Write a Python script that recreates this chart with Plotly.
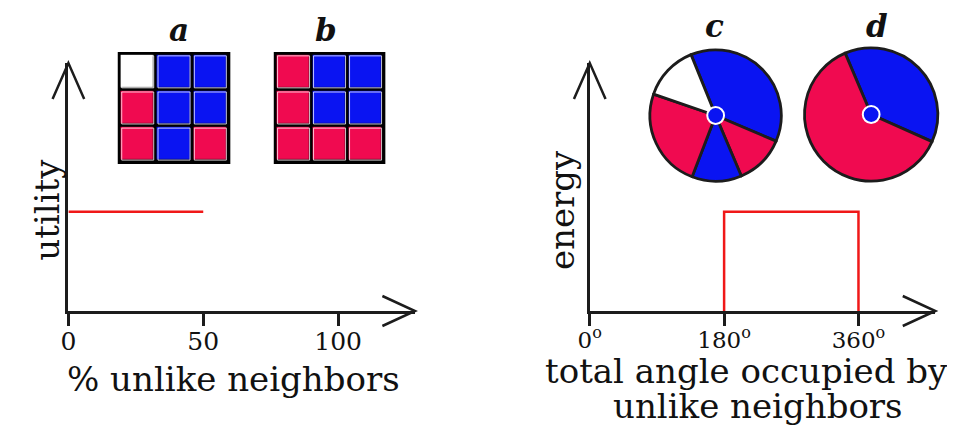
import plotly.graph_objects as go

W, H = 955, 436
PAGE_MARGIN = 8  # default body margin of the html page

RED = "#F00A50"
BLUE = "#0A14F2"
INK = "#1c1c1c"
SERIF = "DejaVu Serif"

# left panel: utility vs % unlike neighbours
pct_ticks = [0, 50, 100]
utility_x = [0, 50]
utility_y = [0.4, 0.4]

# right panel: energy vs total angle of unlike neighbours
angle_ticks = [0, 180, 360]
angle_labels = ["0<sup>o</sup>", "180<sup>o</sup>", "360<sup>o</sup>"]
energy_x = [180, 180, 360, 360]
energy_y = [0, 0.4, 0.4, 0]

# neighbourhood grids, 0 = empty, 1 = red, 2 = blue (rows top to bottom)
grid_a = [[0, 2, 2], [1, 2, 2], [1, 2, 1]]
grid_b = [[1, 2, 2], [1, 2, 2], [1, 1, 1]]

# angular neighbourhoods, degrees clockwise from the first boundary
pie_c_angles = [135, 44, 44, 88, 49]
pie_c_colors = [BLUE, RED, BLUE, RED, "white"]
pie_c_start = 338
pie_d_angles = [137, 223]
pie_d_colors = [BLUE, RED]
pie_d_start = 337


def px(x):
    return (x - PAGE_MARGIN) / W


def py(y):
    return 1 - (y - PAGE_MARGIN) / H


fig = go.Figure()

fig.add_trace(go.Scatter(x=utility_x, y=utility_y, mode="lines",
                         line=dict(color="#f01818", width=2.5),
                         xaxis="x", yaxis="y", hoverinfo="skip"))
fig.add_trace(go.Scatter(x=energy_x, y=energy_y, mode="lines",
                         line=dict(color="#f01818", width=2.5),
                         xaxis="x2", yaxis="y2", hoverinfo="skip"))

cscale = [[0, "white"], [0.33, "white"], [0.33, RED], [0.67, RED],
          [0.67, BLUE], [1, BLUE]]
for grid, xa, ya in [(grid_a, "x3", "y3"), (grid_b, "x4", "y4")]:
    fig.add_trace(go.Heatmap(z=grid, x=[0, 1, 2], y=[0, 1, 2], zmin=0, zmax=2,
                             colorscale=cscale, showscale=False, xgap=3.5, ygap=3.5,
                             xaxis=xa, yaxis=ya, hoverinfo="skip"))
    cx = [c for r in range(3) for c in range(3)]
    cy = [r for r in range(3) for c in range(3)]
    fig.add_trace(go.Scatter(x=cx, y=cy, mode="markers", xaxis=xa, yaxis=ya,
                             marker=dict(symbol="square-open", size=32,
                                         color="rgba(255,255,255,0.75)",
                                         line=dict(width=1)),
                             hoverinfo="skip"))

pies = [
    (pie_c_angles, pie_c_colors, pie_c_start, 712.5, 115.5, 66.5),
    (pie_d_angles, pie_d_colors, pie_d_start, 870, 114.5, 67.5),
]
for vals, cols, start, cx, cy, r in pies:
    fig.add_trace(go.Pie(values=vals, sort=False, direction="clockwise",
                         rotation=start, textinfo="none", hoverinfo="skip",
                         marker=dict(colors=cols, line=dict(color=INK, width=2.8)),
                         domain=dict(x=[px(cx - r), px(cx + r)],
                                     y=[py(cy + r), py(cy - r)])))
    d = 8.5
    fig.add_trace(go.Pie(values=[1], sort=False, textinfo="none", hoverinfo="skip",
                         marker=dict(colors=[BLUE], line=dict(color="white", width=2)),
                         domain=dict(x=[px(cx - d), px(cx + d)],
                                     y=[py(cy + d), py(cy - d)])))

axis_common = dict(showgrid=False, zeroline=False, showline=True,
                   linecolor=INK, linewidth=3, fixedrange=True)
tick_common = dict(ticks="outside", ticklen=12, tickwidth=2.5, tickcolor=INK,
                   ticklabelstandoff=-6)
hidden = dict(visible=False, fixedrange=True)

fig.update_layout(
    width=W, height=H,
    margin=dict(l=0, r=0, t=0, b=0),
    paper_bgcolor="white", plot_bgcolor="rgba(0,0,0,0)",
    showlegend=False,
    xaxis=dict(domain=[px(57), px(408)], range=[0, 128.5], anchor="y",
               tickvals=pct_ticks,
               tickfont=dict(family=SERIF, size=25, color="#111"),
               **axis_common, **tick_common),
    yaxis=dict(domain=[py(311), py(63)], range=[0, 1], anchor="x",
               showticklabels=False, **axis_common),
    xaxis2=dict(domain=[px(585), px(935)], range=[0, 463], anchor="y2",
                tickvals=angle_ticks, ticktext=angle_labels,
                tickfont=dict(family=SERIF, size=23, color="#111"),
                **axis_common, **tick_common),
    yaxis2=dict(domain=[py(311), py(63)], range=[0, 1], anchor="x2",
                showticklabels=False, **axis_common),
    xaxis3=dict(domain=[px(107), px(221)], range=[-0.55, 2.55], anchor="y3", **hidden),
    yaxis3=dict(domain=[py(164), py(52)], range=[2.55, -0.55], anchor="x3", **hidden),
    xaxis4=dict(domain=[px(265), px(378)], range=[-0.55, 2.55], anchor="y4", **hidden),
    yaxis4=dict(domain=[py(164), py(52)], range=[2.55, -0.55], anchor="x4", **hidden),
)

# black frame behind each grid shows through the cell gaps
for n in ("3", "4"):
    fig.add_shape(type="rect", xref=f"x{n} domain", yref=f"y{n} domain",
                  x0=0, x1=1, y0=0, y1=1, fillcolor="black",
                  line=dict(width=0), layer="below")

# open arrowheads at the ends of the axes
for xa, ya in (("x", "y"), ("x2", "y2")):
    xd = fig.layout[xa.replace("x", "xaxis")].domain
    yd = fig.layout[ya.replace("y", "yaxis")].domain
    wpx = (xd[1] - xd[0]) * W
    hpx = (yd[1] - yd[0]) * H
    ax, ay = 33 / wpx, 15 / hpx
    fig.add_shape(type="path", xref=f"{xa} domain", yref=f"{ya} domain",
                  path=f"M {1 - ax},{ay} L 1,0 L {1 - ax},{-ay}",
                  line=dict(color=INK, width=2.5))
    bx, by = 16 / wpx, 36 / hpx
    fig.add_shape(type="path", xref=f"{xa} domain", yref=f"{ya} domain",
                  path=f"M {-bx},{1 - by} L 0,1 L {bx},{1 - by}",
                  line=dict(color=INK, width=2.5))

texts = [
    ("a", 169, 30, 31, True, 0),
    ("b", 318, 30, 31, True, 0),
    ("c", 711, 26, 31, True, 0),
    ("d", 876, 26, 31, True, 0),
    ("% unlike neighbors", 224, 379, 34, False, 0),
    ("total angle occupied by", 744, 371, 34, False, 0),
    ("unlike neighbors", 755, 406, 34, False, 0),
    ("utility", 35, 210, 34, False, -90),
    ("energy", 557, 210, 34, False, -90),
]
for t, x, y, size, bold, angle in texts:
    label = f"<b><i>{t}</i></b>" if bold else t
    fig.add_annotation(text=label, x=px(x), y=py(y), xref="paper", yref="paper",
                       xanchor="center", yanchor="middle", showarrow=False,
                       textangle=angle,
                       font=dict(family=SERIF, size=size, color="#111"))

fig.write_html("out.html")
